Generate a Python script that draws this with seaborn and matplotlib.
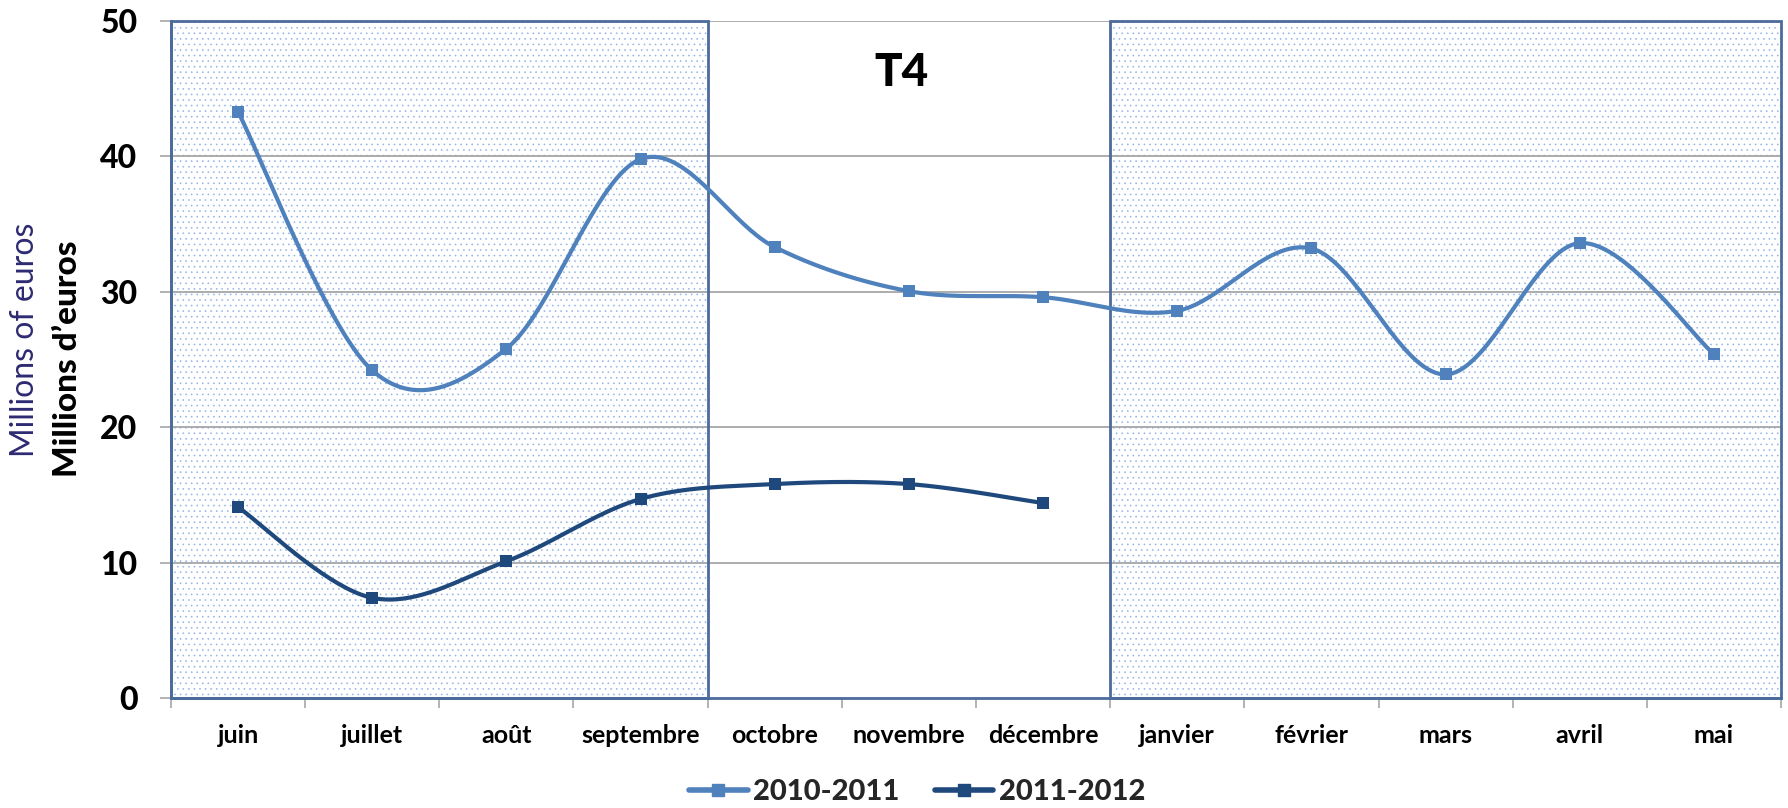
import numpy as np
import pandas as pd
import matplotlib
matplotlib.use("Agg")
import matplotlib.pyplot as plt
import seaborn as sns
from matplotlib.patches import Rectangle
from matplotlib.lines import Line2D

sns.set_theme(style="white")
plt.rcParams['font.family'] = ['Lato', 'DejaVu Sans']
plt.rcParams['hatch.linewidth'] = 0.4

# données
mois = ['juin', 'juillet', 'août', 'septembre', 'octobre', 'novembre',
        'décembre', 'janvier', 'février', 'mars', 'avril', 'mai']
serie_2010 = [43.3, 24.2, 25.8, 39.8, 33.3, 30.05, 29.6, 28.6, 33.2, 23.9, 33.6, 25.4]
serie_2011 = [14.1, 7.4, 10.1, 14.7, 15.8, 15.8, 14.4]
labels = ['2010-2011', '2011-2012']
couleurs = ['#4F81BD', '#1F497D']

df = pd.concat([
    pd.DataFrame({'mois': mois[:len(serie_2010)], 'x': range(len(serie_2010)),
                  'valeur': serie_2010, 'saison': labels[0]}),
    pd.DataFrame({'mois': mois[:len(serie_2011)], 'x': range(len(serie_2011)),
                  'valeur': serie_2011, 'saison': labels[1]}),
])


def lissage(x, y, n=40):
    # courbe lissée façon Excel (Catmull-Rom)
    x = np.asarray(x, float)
    y = np.asarray(y, float)
    px = np.concatenate([[x[0]], x, [x[-1]]])
    py = np.concatenate([[y[0]], y, [y[-1]]])
    xs, ys = [], []
    t = np.linspace(0, 1, n)
    for i in range(1, len(px) - 2):
        p0, p1, p2, p3 = (np.array([px[j], py[j]]) for j in range(i - 1, i + 3))
        m1 = (p2 - p0) / 2
        m2 = (p3 - p1) / 2
        h00 = 2 * t**3 - 3 * t**2 + 1
        h10 = t**3 - 2 * t**2 + t
        h01 = -2 * t**3 + 3 * t**2
        h11 = t**3 - t**2
        pts = (np.outer(h00, p1) + np.outer(h10, m1) + np.outer(h01, p2) + np.outer(h11, m2))
        xs.extend(pts[:, 0])
        ys.extend(pts[:, 1])
    return np.array(xs), np.array(ys)


fig = plt.figure(figsize=(17.88, 8.08), dpi=100)
ax = fig.add_axes([0.0956, 0.1361, 0.9005, 0.8379])

n = len(mois)
ax.set_xlim(-0.5, n - 0.5)
ax.set_ylim(0, 50)

# zones pointillées
zones = [(-0.5, 3.5), (6.5, n - 0.5)]
for x0, x1 in zones:
    ax.add_patch(Rectangle((x0, 0), x1 - x0, 50, facecolor='white', edgecolor='#8FB2E3',
                           hatch='...', linewidth=0, zorder=0))

# quadrillage
for v in [10, 20, 30, 40, 50]:
    ax.axhline(v, color='#A6A6A6', linewidth=1.3, zorder=1)

for x0, x1 in zones:
    ax.add_patch(Rectangle((x0, 0), x1 - x0, 50, fill=False, edgecolor='#4A6B9B',
                           linewidth=2.0, zorder=2, clip_on=False))

for (saison, d), c in zip(df.groupby('saison', sort=False), couleurs):
    xs, ys = lissage(d['x'], d['valeur'])
    ax.plot(xs, ys, color=c, linewidth=3.0, zorder=3, solid_capstyle='round')
    sns.scatterplot(data=d, x='x', y='valeur', ax=ax, color=c, marker='s', s=80,
                    linewidth=0, zorder=4, legend=False)

ax.set_xlabel('')
ax.set_ylabel('')

for s in ['top', 'right']:
    ax.spines[s].set_visible(False)
ax.spines['left'].set_color('#4A6B9B')
ax.spines['bottom'].set_color('#4A6B9B')
ax.spines['left'].set_linewidth(2.0)
ax.spines['bottom'].set_linewidth(2.0)

ax.set_yticks([0, 10, 20, 30, 40, 50])
ax.tick_params(axis='y', which='major', length=8, width=1.2, color='#A6A6A6',
               labelsize=23, pad=16, left=True, labelcolor='black')
for lab in ax.get_yticklabels():
    lab.set_fontweight('black')

ax.set_xticks(np.arange(-0.5, n, 1.0))
ax.set_xticklabels([])
ax.tick_params(axis='x', which='major', length=7, width=1.2, color='#A6A6A6', bottom=True)
ax.set_xticks(np.arange(n), minor=True)
ax.set_xticklabels(mois, minor=True, fontsize=18, fontweight='bold', color='black')
ax.tick_params(axis='x', which='minor', length=0, pad=19)

ax.text(0.454, 0.923, 'T4', transform=ax.transAxes, ha='center', va='center',
        fontsize=33, fontweight='black', color='black')

fig.text(0.014, 0.579, 'Millions of euros', rotation=90, ha='center', va='center',
         fontsize=23, color='#2E2A72')
fig.text(0.038, 0.556, 'Millions d\u2019euros', rotation=90, ha='center', va='center',
         fontsize=24, fontweight='black', color='black')

handles = [Line2D([0], [0], color=c, linewidth=4, marker='s', markersize=9,
                  solid_capstyle='round') for c in couleurs]
fig.legend(handles, labels, loc='center', bbox_to_anchor=(0.513, 0.02), ncol=2,
           frameon=False, prop={'size': 21, 'weight': 'black'}, handlelength=2.0,
           handletextpad=0.2, columnspacing=1.2)

fig.savefig('out.png', dpi=100)
